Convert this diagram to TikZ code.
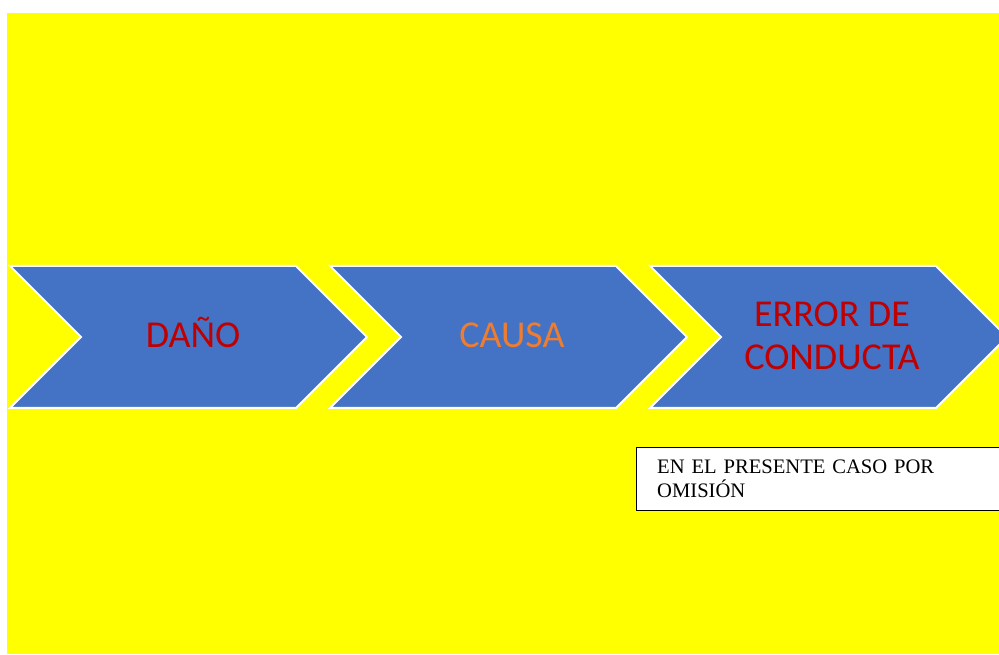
\documentclass[tikz,border=0pt]{standalone}
\usepackage{fontspec}
\setmainfont{Liberation Serif}
\newfontfamily\chevfont{Carlito}

\definecolor{bgyellow}{HTML}{FFFF00}
\definecolor{chevblue}{HTML}{4472C4}
\definecolor{darkred}{HTML}{C00000}
\definecolor{causeorange}{HTML}{ED7D31}

\tikzset{
  chevron/.style={fill=chevblue, draw=white, line width=2pt, line join=miter},
  chevtext/.style={font=\chevfont\fontsize{38}{43}\selectfont, align=center, anchor=base},
}

\begin{document}
\begin{tikzpicture}[x=1pt, y=1pt]
        % Page frame and yellow background
        \clip (0,0) rectangle (999,654);
        \fill[white] (0,0) rectangle (999,654);
        \fill[bgyellow] (7,0) rectangle (999,641);

        % Chevrons
        \filldraw[chevron] (10,388) -- (296,388) -- (367,317) -- (296,246) -- (10,246) -- (81,317) -- cycle;
        \filldraw[chevron] (330,388) -- (616,388) -- (687,317) -- (616,246) -- (330,246) -- (401,317) -- cycle;
        \filldraw[chevron] (650,388) -- (936,388) -- (1007,317) -- (936,246) -- (650,246) -- (721,317) -- cycle;

        % Chevron labels
        \node[chevtext, text=darkred] (dano) at (193,306) {DAÑO};
        \node[chevtext, text=causeorange] (causa) at (512,306) {CAUSA};
        \node[chevtext, text=darkred] (error) at (832,284) {ERROR DE\\CONDUCTA};

        % Note below the last chevron
        \node[draw, fill=white, anchor=north west, text width=340pt, inner xsep=21pt,
              minimum height=63pt, align=left, font=\fontsize{20.6}{24}\selectfont]
              (omision) at (636,207) {EN EL PRESENTE CASO POR OMISIÓN};
\end{tikzpicture}
\end{document}
